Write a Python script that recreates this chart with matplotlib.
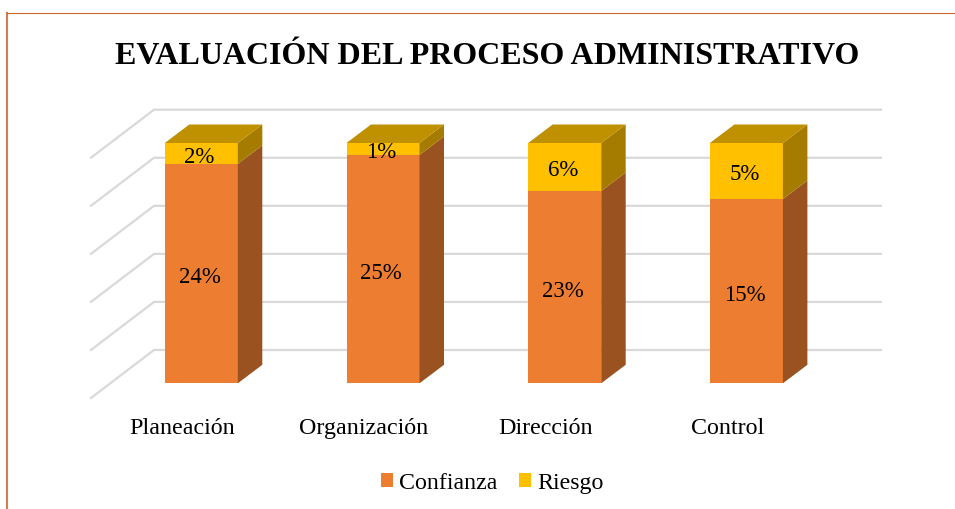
# plot.py
# Evaluacion del proceso administrativo - barras apiladas al 100% con aspecto 3D
import matplotlib
matplotlib.use("Agg")
import matplotlib.pyplot as plt
from matplotlib.patches import Patch

plt.rcParams["font.family"] = ["Liberation Serif", "DejaVu Serif"]

categorias = ["Planeación", "Organización", "Dirección", "Control"]
# share of each bar's height
confianza = [91.3, 95.0, 80.0, 76.7]
riesgo = [8.7, 5.0, 20.0, 23.3]
# printed data labels
etiquetas_confianza = ["24%", "25%", "23%", "15%"]
etiquetas_riesgo = ["2%", "1%", "6%", "5%"]
niveles = [0, 20, 40, 60, 80, 100]

NARANJA = "#ED7D31"
NARANJA_LADO = "#9A5220"
AMARILLO = "#FFC000"
AMARILLO_LADO = "#A67C00"
AMARILLO_TAPA = "#BF9000"
GRIS = "#D9D9D9"
BORDE = "#C8672A"

W, H = 955, 510
PX_CAT = 181.7      # pixels between categories
PX_PCT = 2.403      # pixels per percent
X0, Y0 = 201.3, 384.3  # first bar centre, baseline


def x_px(px):
    return (px - X0) / PX_CAT


def y_px(px):
    return (Y0 - px) / PX_PCT


fig = plt.figure(figsize=(W / 100, H / 100), dpi=100)
ax = fig.add_axes([0, 0, 1, 1])
ax.set_xlim(x_px(0), x_px(W))
ax.set_ylim(y_px(H), y_px(0))
ax.axis("off")

ancho = 73 / PX_CAT
prof_x = 24.5 / PX_CAT
prof_y = 18.5 / PX_PCT

# rejilla: pared lateral + pared del fondo
for n in niveles:
    y_frente = n + y_px(399)
    y_fondo = n + y_px(351)
    ax.plot([x_px(91), x_px(154), x_px(881)], [y_frente, y_fondo, y_fondo],
            color=GRIS, lw=1.6, zorder=1, solid_joinstyle="miter")

# barras
for i in range(len(categorias)):
    c = confianza[i]
    r = riesgo[i]
    ax.bar(i, c, width=ancho, color=NARANJA, zorder=3)
    ax.bar(i, r, bottom=c, width=ancho, color=AMARILLO, zorder=3)

    der = i + ancho / 2
    izq = i - ancho / 2
    tope = c + r
    # caras laterales
    ax.fill([der, der + prof_x, der + prof_x, der],
            [0, prof_y, c + prof_y, c], color=NARANJA_LADO, lw=0, zorder=3)
    ax.fill([der, der + prof_x, der + prof_x, der],
            [c, c + prof_y, tope + prof_y, tope], color=AMARILLO_LADO, lw=0, zorder=3)
    # tapa
    ax.fill([izq, izq + prof_x, der + prof_x, der],
            [tope, tope + prof_y, tope + prof_y, tope], color=AMARILLO_TAPA, lw=0, zorder=3)

    # etiquetas de datos
    ax.text(i - 0.01, c / 2 - 1.3, etiquetas_confianza[i], ha="center", va="center",
            fontsize=16.5, color="black", zorder=5)
    ax.text(i - 0.01, c + r / 2 - 1.2, etiquetas_riesgo[i], ha="center", va="center",
            fontsize=16.5, color="black", zorder=5)

    # categoria
    ax.text(i - 0.105, y_px(434), categorias[i], ha="center", va="baseline",
            fontsize=17.3, color="black")

# titulo
ax.text(x_px(487.5), y_px(56), "EVALUACIÓN DEL PROCESO ADMINISTRATIVO",
        ha="center", va="center", fontsize=23, fontweight="bold", color="black")

# leyenda
handles = [Patch(facecolor=NARANJA, edgecolor="none", label="Confianza"),
           Patch(facecolor=AMARILLO, edgecolor="none", label="Riesgo")]
ax.legend(handles=handles, loc="center", bbox_to_anchor=(492.5 / W, 1 - 484 / H),
          ncol=2, frameon=False, fontsize=17.2, handlelength=0.5, handleheight=0.5,
          handletextpad=0.25, columnspacing=0.9, borderpad=0, borderaxespad=0)

# borde del recuadro
ax.plot([x_px(7), x_px(7)], [y_px(H), y_px(14)], color=BORDE, lw=1.5, alpha=0.85)
ax.plot([x_px(7), x_px(W)], [y_px(14), y_px(14)], color=BORDE, lw=0.8)

fig.savefig("out.png", dpi=100)
plt.close(fig)
